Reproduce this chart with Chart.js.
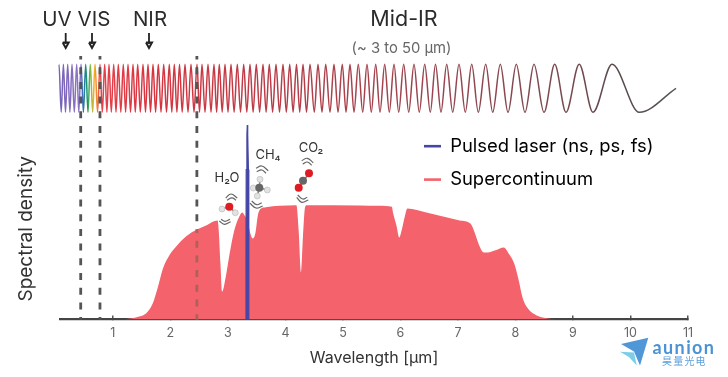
<!DOCTYPE html>
<html><head><meta charset="utf-8">
<style>html,body{margin:0;padding:0;background:#fff}canvas{display:block}</style>
<script src="https://cdn.jsdelivr.net/npm/chart.js@4"></script>
</head><body><canvas id="c" width="728" height="377"></canvas>
<script>
// Spectrum: wavelength [um] and density (arbitrary units)
const supercontinuumX=[1.2,1.46,1.58,1.69,1.78,1.87,1.98,2.10,2.27,2.46,2.62,2.82,2.84,2.87,2.90,2.96,3.03,3.11,3.19,3.25,3.29,3.34,3.39,3.43,3.48,3.52,3.57,3.66,3.90,4.19,4.20,4.23,4.27,4.31,4.34,4.37,5.29,5.64,5.85,5.87,5.93,5.98,6.02,6.08,6.12,6.45,6.74,7.03,7.22,7.29,7.37,7.45,7.52,7.64,7.80,7.87,7.98,8.05,8.13,8.22,8.37,8.54,8.71];
const supercontinuumY=[0,3,6.3,15.7,32,51,64,73,83,90,94,99,89,56,28,42,66,89,102,107,104,99,86,81,87,104,110.7,112.3,113.7,114.3,112,89,47,89,112,114.3,114,113.7,112.7,107,94,82,89,104,111,107,103,99,95.7,87,74,67,67,69,72,67,55.7,40.7,20.7,10.7,4,1.3,0];
const laserX=[3.308,3.314,3.318,3.33,3.337,3.344,3.356,3.36,3.366];
const laserY=[0,60,150,185,194.5,185,150,60,0];
const dividerWavelengths=[0.44,0.775,2.46];
const dividerTop=263.5;
const xTickValues=[1,2,3,4,5,6,7,8,9,10,11];
// Illustration strip, read in figure units
const wavePeaks=[59,63.4,67.7,72,76.7,81,85.7,90.3,95,100,104.7,109,113.7,118.3,123.3,128,133,137.7,143,148,153,158.3,163.7,169.3,174.3,179.5,185,191,197,202,208,214,219.3,225,231,237.3,243.7,250,256.3,263,269.3,276,283,289.7,296.5,303,310,318,325.7,334,342.3,350,358.3,367,375.7,384.7,394,403.7,414,424.7,435.5,446.7,459,471.7,485.7,500.3,516.3,534,554.7,579.2,612];
const waveTroughs=[61.2,65.5,69.9,74.3,78.8,83.4,88,92.7,97.5,102.3,106.9,111.3,116,120.8,125.6,130.5,135.3,140.3,145.5,150.5,155.6,161,166.5,171.8,176.9,182.2,188,194,199.5,205,211,216.6,222.2,228,234.1,240.5,246.8,253.1,259.6,266.1,272.6,279.5,286.3,293.1,299.7,306.5,314.3,322,330,338,346,354,362.7,371.3,380,389.3,398.7,408.7,419.3,430.3,441,452.7,465.3,478.3,492.7,508,525,544,566,593,639.3];
const waveStart=[57,106.7], waveEnd=[676,88.3], wavePeakY=64.3, waveTroughY=112.3;
const waveColorStops=[[57,'#7460b6'],[80,'#8e74c4'],[83,'#2f6db8'],[87.5,'#159a62'],[90.5,'#7db84a'],[94,'#f4b426'],[97,'#f0803a'],[100,'#e6424c'],[150,'#d8343f'],[300,'#b23f4a'],[450,'#964650'],[560,'#7a4a50'],[620,'#5a4a4c'],[676,'#555555']];
const arrowShafts=[[65.7,33],[65.7,44],null,[92,33],[92,44],null,[149,33],[149,44]];
const arrowHeads=[[62.7,42.5],[65.7,48],[68.7,42.5],[62.7,42.5],null,[89,42.5],[92,48],[95,42.5],[89,42.5],null,[146,42.5],[149,48],[152,42.5],[146,42.5]];
const wiggles=[[225.7,198],[231,194],[237.3,198],null,[227,200.3],[232,197.8],[236,200.3],null,[219.3,221],[224.3,224.3],[230.7,221.7],null,[221,219.3],[225,221.3],[230,219.3],null,
 [256,168.3],[261.7,166],[268.3,170.7],null,[256.7,171.7],[261.7,170],[266,173.3],null,[250,203.3],[256,208],[262.7,206],null,[251.7,201],[256.7,204.7],[261.7,202.7],null,
 [301.7,160.7],[307.3,158.3],[313.3,162.7],null,[302.7,164],[307.3,162],[311.7,165.3],null,[296.7,197.3],[301.7,202.3],[308.3,200],null,[297.7,195],[302.7,199],[307.3,197.3]];
const bonds=[[222,209],[229.3,206.7],[235.3,212.7],null,[260,179.3],[259.3,187.7],[253.3,188],null,[267.3,190],[259.3,187.7],[257.3,196],null,[309,173.3],[298.7,187.7]];
const atomsO=[[229.3,206.7],[309,173.3],[298.7,187.7]];
const atomsC=[[259.3,187.7],[303,180.7]];
const atomsH=[[222,209],[235.3,212.7],[260,179.3],[253.3,188],[267.3,190],[257.3,196]];
const seriesNames=['Pulsed laser (ns, ps, fs)','Supercontinuum'];
const annotationTexts=[['UV',57,20,20.5,'#2b2b2b'],['VIS',94,20,20.5,'#2b2b2b'],['NIR',150,20,20.5,'#2b2b2b'],['Mid-IR',404,20,21.5,'#2b2b2b'],['(~ 3 to 50 µm)',401.5,49,14.8,'#666666'],['H₂O',227,178,13,'#333333'],['CH₄',268,155,13,'#333333'],['CO₂',311,148,13,'#333333']];
const logoPlane=[[621,344],[648.3,337.7],[640,365.5],[634,351.5]];
const logoWing=[[620,351.7],[634,352.5],[636.7,365.5],[629,357]];

const pts=a=>a.map(p=>p?{x:p[0],y:p[1]}:{x:null,y:null});
const zip=(xs,ys)=>xs.map((x,i)=>({x,y:ys[i]}));
const wavePoints=[{x:waveStart[0],y:waveStart[1]},...wavePeaks.map(x=>({x,y:wavePeakY})),...waveTroughs.map(x=>({x,y:waveTroughY})),{x:waveEnd[0],y:waveEnd[1]}].sort((a,b)=>a.x-b.x);
const FONT='Inter';
const figureAxes={xAxisID:'xp',yAxisID:'yp',clip:false,pointRadius:0,fill:false};

function waveStroke(c){
  const ch=c.chart; if(!ch.chartArea) return '#b0404a';
  const sx=ch.scales.xp, a=waveColorStops[0][0], b=waveColorStops[waveColorStops.length-1][0];
  const g=ch.ctx.createLinearGradient(sx.getPixelForValue(a),0,sx.getPixelForValue(b),0);
  waveColorStops.forEach(s=>g.addColorStop((s[0]-a)/(b-a),s[1]));
  return g;
}
const dividers=dividerWavelengths.map(x=>({
  label:'divider',data:[{x,y:dividerTop},{x,y:90},{x,y:0}],xAxisID:'x',yAxisID:'y',clip:false,pointRadius:0,fill:false,order:1,
  borderColor:'#555555',borderWidth:2.8,borderDash:[7,7.7],borderDashOffset:3.5,
  segment:{borderColor:c=>(x>1&&c.p0.parsed.y<=90)?'#b0605c':undefined}
}));

const placeLegend={id:'placeLegend',afterLayout(ch){const l=ch.legend;l.left=409;l.right=700;l.top=122;l.bottom=280;}};
const decor={id:'decor',
  afterDatasetsDraw(ch){
    const c=ch.ctx,sx=ch.scales.xp,sy=ch.scales.yp;
    c.save();
    c.textAlign='center';c.textBaseline='middle';
    annotationTexts.forEach(t=>{c.font=t[3]+'px '+FONT+', "DejaVu Sans"';c.fillStyle=t[4];c.fillText(t[0],sx.getPixelForValue(t[1]),sy.getPixelForValue(t[2]));});
    const poly=(p,col)=>{c.beginPath();p.forEach((q,i)=>{const X=sx.getPixelForValue(q[0]),Y=sy.getPixelForValue(q[1]);i?c.lineTo(X,Y):c.moveTo(X,Y);});c.closePath();c.fillStyle=col;c.fill();};
    poly(logoPlane,'#5097d8');poly(logoWing,'#7ccdea');
    c.textAlign='left';c.fillStyle='#4b93d5';c.font='bold 18px Lato';
    if('letterSpacing' in c)c.letterSpacing='1.4px';
    c.fillText('aunion',sx.getPixelForValue(652.5),sy.getPixelForValue(348));
    if('letterSpacing' in c)c.letterSpacing='1.2px';
    c.font='10px "Noto Sans CJK SC"';c.fillStyle='#5a9fdc';
    c.fillText('昊量光电',sx.getPixelForValue(662),sy.getPixelForValue(361.5));
    c.restore();
  }};

new Chart(document.getElementById('c'),{
  type:'line',
  data:{datasets:[
    {label:'wave',data:wavePoints,...figureAxes,cubicInterpolationMode:'monotone',borderColor:waveStroke,borderWidth:1.5,order:9},
    ...dividers,
    {label:seriesNames[1],data:zip(supercontinuumX,supercontinuumY),xAxisID:'x',yAxisID:'y',pointRadius:0,borderWidth:0,borderColor:'#f4626b',backgroundColor:'#f4626b',fill:'origin',cubicInterpolationMode:'monotone',order:5},
    {label:seriesNames[0],data:zip(laserX,laserY),xAxisID:'x',yAxisID:'y',clip:false,pointRadius:0,borderWidth:1.2,borderColor:'#4646a6',backgroundColor:'#4646a6',fill:'origin',tension:0,order:0},
    {label:'arrows',data:pts(arrowShafts),...figureAxes,borderColor:'#222',borderWidth:1.8,order:3},
    {label:'heads',data:pts(arrowHeads),...figureAxes,borderColor:'#222',backgroundColor:'#222',borderWidth:2,order:3},
    {label:'wiggles',data:pts(wiggles),...figureAxes,tension:0.45,borderColor:'#666',borderWidth:1.2,order:3},
    {label:'bonds',data:pts(bonds),...figureAxes,borderColor:'#888',borderWidth:1.6,order:3},
    {label:'C',data:pts(atomsC),...figureAxes,showLine:false,pointRadius:4,pointBackgroundColor:'#666',pointBorderWidth:0,order:-1},
    {label:'H',data:pts(atomsH),...figureAxes,showLine:false,pointRadius:3,pointBackgroundColor:'#e2e2e2',pointBorderColor:'#aaa',pointBorderWidth:0.5,order:-1},
    {label:'O',data:pts(atomsO),...figureAxes,showLine:false,pointRadius:4,pointBackgroundColor:'#df1b24',pointBorderWidth:0,order:-2}
  ]},
  options:{
    responsive:false,animation:false,
    layout:{padding:{left:10,right:40,top:138,bottom:9}},
    plugins:{
      tooltip:{enabled:false},
      legend:{position:'chartArea',align:'start',
        labels:{usePointStyle:true,pointStyleWidth:17,boxHeight:3,padding:15,color:'#333',font:{family:FONT,size:18.4},
          generateLabels:()=>[
            {text:seriesNames[0],strokeStyle:'#4646a6',fillStyle:'#4646a6',lineWidth:2.6,pointStyle:'line',hidden:false,datasetIndex:0},
            {text:seriesNames[1],strokeStyle:'#f4626b',fillStyle:'#f4626b',lineWidth:2.6,pointStyle:'line',hidden:false,datasetIndex:0}
          ]}}
    },
    scales:{
      x:{type:'linear',min:0.08,max:11,position:'bottom',
        afterBuildTicks:s=>{s.ticks=xTickValues.map(value=>({value}));},
        afterFit:s=>{s.height=48.5;},
        border:{display:true,color:'#444',width:2.2},
        grid:{drawOnChartArea:false,drawTicks:true,tickLength:-4,color:'#555',lineWidth:1.5},
        ticks:{color:'#666',font:{family:FONT,size:12.5},padding:10,maxRotation:0,autoSkip:false},
        title:{display:true,text:'Wavelength [µm]',color:'#333',font:{family:FONT,size:16},padding:{top:5,bottom:0}}},
      y:{min:0,max:181.5,position:'left',
        afterFit:s=>{s.width=50;},
        border:{display:false},grid:{display:false},ticks:{display:false},
        title:{display:true,text:'Spectral density',color:'#333',font:{family:FONT,size:19},padding:{top:5,bottom:0}}},
      xp:{axis:'x',type:'linear',min:60,max:688,display:false},
      yp:{axis:'y',type:'linear',min:138,max:319.5,reverse:true,display:false}
    }
  },
  plugins:[placeLegend,decor]
});
</script></body></html>
